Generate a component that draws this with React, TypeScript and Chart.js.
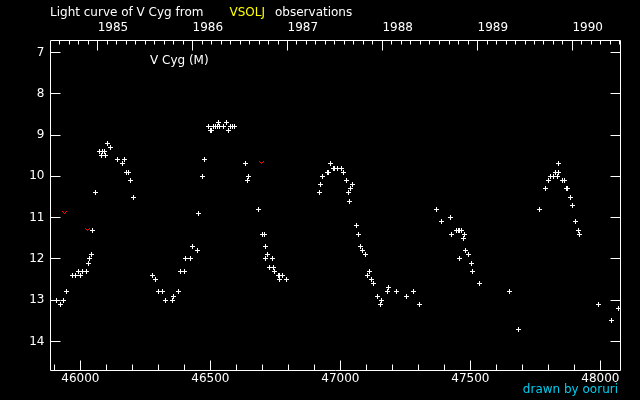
import { useEffect, useRef } from 'react';
import { Chart, registerables } from 'chart.js';

Chart.register(...registerables);

// Observations: JD - 2400000 and visual magnitude
const obsJD = [
  45907, 45923, 45934, 45946, 45969, 45980, 45992, 45999, 46007, 46023,
  46030, 46034, 46042, 46046, 46057, 46073, 46080, 46084, 46093, 46096,
  46103, 46115, 46142, 46161, 46169, 46177, 46184, 46192, 46203,
  46277, 46288, 46300, 46315, 46327, 46353, 46357, 46377, 46384, 46400,
  46403, 46423, 46430, 46450, 46456, 46469, 46477, 46492, 46500, 46503,
  46511, 46519, 46527, 46530, 46534, 46550, 46561, 46569, 46577, 46584,
  46592, 46634, 46642, 46646, 46684, 46700, 46707, 46711, 46711, 46719,
  46727, 46738, 46742, 46746, 46761, 46765, 46765, 46777, 46792,
  46919, 46923, 46930, 46950, 46953, 46961, 46973, 46977, 46988, 47003,
  47011, 47023, 47030, 47034, 47038, 47046, 47061, 47069, 47077, 47084,
  47096, 47103, 47111, 47119, 47127, 47142, 47153, 47157, 47180, 47184,
  47215, 47254, 47280, 47303,
  47369, 47388, 47423, 47427, 47446, 47453, 47457, 47465, 47457, 47473,
  47477, 47480, 47492, 47503, 47507, 47534, 47650, 47684,
  47765, 47788, 47800, 47807, 47819, 47834, 47827, 47838, 47838, 47853,
  47861, 47869, 47872, 47884, 47892, 47903, 47915, 47919, 47992, 48042,
  48069,
];
const obsMag = [
  13.0, 13.1, 13.0, 12.8, 12.4, 12.4, 12.3, 12.4, 12.3, 12.3,
  12.1, 12.0, 11.9, 11.3, 10.4, 9.4, 9.5, 9.4, 9.4, 9.5,
  9.2, 9.3, 9.6, 9.7, 9.6, 9.9, 9.9, 10.1, 10.5,
  12.4, 12.5, 12.8, 12.8, 13.0, 13.0, 12.9, 12.8, 12.3, 12.3,
  12.0, 12.0, 11.7, 11.8, 10.9, 10.0, 9.6, 8.8, 8.9, 8.9,
  8.8, 8.8, 8.8, 8.7, 8.8, 8.8, 8.7, 8.9, 8.8, 8.8,
  8.8, 9.7, 10.1, 10.0, 10.8, 11.4, 11.4, 11.7, 12.0, 11.9,
  12.2, 12.0, 12.2, 12.3, 12.4, 12.4, 12.5, 12.4, 12.5,
  10.4, 10.2, 10.0, 9.9, 9.9, 9.7, 9.8, 9.8, 9.8, 9.8,
  9.9, 10.1, 10.4, 10.6, 10.3, 10.2, 11.2, 11.4, 11.7, 11.8,
  11.9, 12.4, 12.3, 12.5, 12.6, 12.9, 13.1, 13.0, 12.8, 12.7,
  12.8, 12.9, 12.8, 13.1,
  10.8, 11.1, 11.0, 11.4, 11.3, 11.3, 11.3, 11.3, 12.0, 11.5,
  11.4, 11.8, 11.9, 12.1, 12.3, 12.6, 12.8, 13.7,
  10.8, 10.3, 10.1, 10.0, 10.0, 10.0, 9.9, 9.9, 9.7, 10.1,
  10.1, 10.3, 10.3, 10.5, 10.7, 11.1, 11.3, 11.4, 13.1, 13.5,
  13.2,
];

// Fainter-than observations
const limJD = [45938, 46027, 46696];
const limMag = [10.9, 11.3, 9.7];

// Axes
const jdMin = 45885;
const jdMax = 48077.3;
const magTop = 6.709;
const magBottom = 14.702;
const jdTicks = [46000, 46500, 47000, 47500, 48000];
const magTicks = [7, 8, 9, 10, 11, 12, 13, 14];
const yearLabels = [1985, 1986, 1987, 1988, 1989, 1990];
const yearStartJD = [46066.5, 46431.5, 46796.5, 47161.5, 47527.5, 47892.5];
const allYearStartJD = [45700.5, 46066.5, 46431.5, 46796.5, 47161.5, 47527.5, 47892.5, 48257.5];

const FONT = '"DejaVu Sans", sans-serif';

function makeCross(): HTMLCanvasElement {
  const c = document.createElement('canvas');
  c.width = 5;
  c.height = 5;
  const g = c.getContext('2d')!;
  g.fillStyle = '#ffffff';
  g.fillRect(0, 2, 5, 1);
  g.fillRect(2, 0, 1, 5);
  return c;
}

function makeVee(): HTMLCanvasElement {
  const c = document.createElement('canvas');
  c.width = 5;
  c.height = 5;
  const g = c.getContext('2d')!;
  g.fillStyle = '#ff0000';
  g.fillRect(0, 0, 1, 1);
  g.fillRect(4, 0, 1, 1);
  g.fillRect(1, 1, 1, 1);
  g.fillRect(3, 1, 1, 1);
  g.fillRect(2, 2, 1, 1);
  return c;
}

const framePlugin = {
  id: 'frame',
  beforeDatasetsDraw(chart: any) {
    chart.ctx.imageSmoothingEnabled = false;
  },
  afterDraw(chart: any) {
    const { ctx, chartArea: a } = chart;
    const xs = chart.scales.x;
    const ys = chart.scales.y;
    const L = Math.floor(a.left) + 0.5;
    const R = Math.floor(a.right) + 0.5;
    const T = Math.floor(a.top) + 0.5;
    const B = Math.floor(a.bottom) + 0.5;
    ctx.save();
    ctx.strokeStyle = '#ffffff';
    ctx.lineWidth = 1;
    ctx.beginPath();
    ctx.rect(L, T, R - L, B - T);
    // bottom JD ticks
    for (let v = 45900; v <= 48000; v += 100) {
      const px = Math.floor(xs.getPixelForValue(v)) + 0.5;
      const len = v % 500 === 0 ? 10 : 6;
      ctx.moveTo(px, B);
      ctx.lineTo(px, B - len);
    }
    // top year ticks (tenths of a year)
    for (let i = 0; i < allYearStartJD.length - 1; i++) {
      const s = allYearStartJD[i];
      const e = allYearStartJD[i + 1];
      for (let k = 0; k < 10; k++) {
        const jd = s + (k * (e - s)) / 10;
        if (jd < jdMin || jd > jdMax) continue;
        const px = Math.floor(xs.getPixelForValue(jd)) + 0.5;
        const len = k === 0 ? 10 : 4;
        ctx.moveTo(px, T);
        ctx.lineTo(px, T + len);
      }
    }
    // magnitude ticks on both sides
    for (const m of magTicks) {
      const py = Math.floor(ys.getPixelForValue(m)) + 0.5;
      ctx.moveTo(L, py);
      ctx.lineTo(L + 10, py);
      ctx.moveTo(R, py);
      ctx.lineTo(R - 10, py);
    }
    ctx.stroke();

    // texts
    ctx.font = '12px ' + FONT;
    ctx.textBaseline = 'middle';
    ctx.textAlign = 'left';
    ctx.fillStyle = '#ffffff';
    ctx.fillText('Light curve of V Cyg from', 50, 12.5);
    ctx.fillStyle = '#ffff00';
    ctx.fillText('VSOLJ', 229.5, 12.5);
    ctx.fillStyle = '#ffffff';
    ctx.fillText('observations', 275, 12.5);
    ctx.fillText('V Cyg (M)', 150, 61);
    ctx.textAlign = 'right';
    ctx.fillStyle = '#00ccee';
    ctx.fillText('drawn by ooruri', 618, 390);
    ctx.restore();
  },
};

export default function App() {
  const ref = useRef<HTMLCanvasElement>(null);

  useEffect(() => {
    document.body.style.margin = '0';
    document.body.style.background = '#000';
    const canvas = ref.current!;
    const cross = makeCross();
    const vee = makeVee();
    Chart.defaults.font.family = FONT;
    Chart.defaults.font.size = 12;
    Chart.defaults.color = '#ffffff';

    const chart = new Chart(canvas, {
      type: 'scatter',
      data: {
        datasets: [
          {
            label: 'V Cyg',
            data: obsJD.map((x, i) => ({ x, y: obsMag[i] })),
            pointStyle: cross as any,
            pointRadius: 3,
            borderColor: '#ffffff',
            backgroundColor: '#ffffff',
          },
          {
            label: 'fainter than',
            data: limJD.map((x, i) => ({ x, y: limMag[i] })),
            pointStyle: vee as any,
            pointRadius: 3,
            borderColor: '#ff0000',
            backgroundColor: '#ff0000',
          },
        ],
      },
      plugins: [framePlugin],
      options: {
        responsive: false,
        animation: false,
        layout: { padding: { left: 0, right: 19.5, top: 0, bottom: 0 } },
        plugins: {
          legend: { display: false },
          tooltip: { enabled: false },
          title: { display: false },
        },
        scales: {
          x: {
            type: 'linear',
            position: 'bottom',
            min: jdMin,
            max: jdMax,
            border: { display: false },
            grid: { display: false, drawTicks: false },
            afterBuildTicks: (s: any) => {
              s.ticks = jdTicks.map((v) => ({ value: v }));
            },
            afterFit: (s: any) => {
              s.height = 29.5;
            },
            ticks: {
              autoSkip: false,
              maxRotation: 0,
              padding: 1,
              color: '#ffffff',
              font: { size: 12, family: FONT },
              callback: (v: any) => String(v),
            },
          },
          x2: {
            type: 'linear',
            position: 'top',
            min: jdMin,
            max: jdMax,
            border: { display: false },
            grid: { display: false, drawTicks: false },
            afterBuildTicks: (s: any) => {
              s.ticks = yearStartJD.map((v) => ({ value: v }));
            },
            afterFit: (s: any) => {
              s.height = 40.5;
            },
            ticks: {
              autoSkip: false,
              maxRotation: 0,
              align: 'start',
              padding: 5,
              color: '#ffffff',
              font: { size: 12, family: FONT },
              callback: (_v: any, i: number) => String(yearLabels[i]),
            },
          },
          y: {
            type: 'linear',
            position: 'left',
            reverse: true,
            min: magTop,
            max: magBottom,
            border: { display: false },
            grid: { display: false, drawTicks: false },
            afterBuildTicks: (s: any) => {
              s.ticks = magTicks.map((v) => ({ value: v }));
            },
            afterFit: (s: any) => {
              s.width = 50.5;
            },
            ticks: {
              autoSkip: false,
              padding: 6,
              color: '#ffffff',
              font: { size: 12, family: FONT },
              callback: (v: any) => String(v),
            },
          },
        },
      },
    });
    return () => chart.destroy();
  }, []);

  return (
    <div style={{ position: 'absolute', left: 0, top: 0, width: 640, height: 400, background: '#000' }}>
      <canvas ref={ref} width={640} height={400} style={{ display: 'block', width: 640, height: 400 }} />
    </div>
  );
}
